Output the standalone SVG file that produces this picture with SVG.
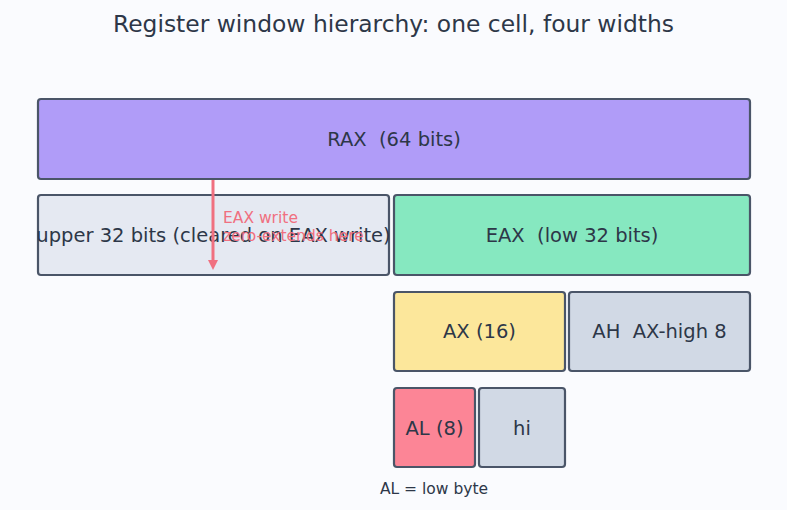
<svg xmlns="http://www.w3.org/2000/svg" width="787" height="510" viewBox="0 0 787 510">
<style>
.box{stroke:#4a5568;stroke-width:2.2}
.lbl{font-family:"DejaVu Sans",sans-serif;font-size:19.5px;fill:#2d3748;text-anchor:middle;dominant-baseline:central;white-space:pre}
.note{font-family:"DejaVu Sans",sans-serif;font-size:15.5px;fill:#f07080}
</style>
<defs>
<marker id="ah" markerWidth="10" markerHeight="10" refX="5" refY="5" orient="auto" markerUnits="userSpaceOnUse"><path d="M0,0 L10,5 L0,10 z" fill="#f07080"/></marker>
</defs>
<rect width="787" height="510" fill="#fafbfe"/>
<text x="393.5" y="32" font-family="DejaVu Sans,sans-serif" font-size="23.4" fill="#2d3748" text-anchor="middle">Register window hierarchy: one cell, four widths</text>
<g id="rax"><rect class="box" x="38" y="99" width="712" height="80" rx="3" fill="#b09cf8"/><text class="lbl" x="394" y="139" xml:space="preserve">RAX  (64 bits)</text></g>
<g id="upper"><rect class="box" x="38" y="195" width="351" height="80" rx="3" fill="#e5e9f2"/><text class="lbl" x="213.5" y="235">upper 32 bits (cleared on EAX write)</text></g>
<g id="eax"><rect class="box" x="394" y="195" width="356" height="80" rx="3" fill="#86e8c0"/><text class="lbl" x="572" y="235" xml:space="preserve">EAX  (low 32 bits)</text></g>
<g id="ax"><rect class="box" x="394" y="292" width="171" height="79" rx="3" fill="#fce79b"/><text class="lbl" x="479.5" y="331">AX (16)</text></g>
<g id="ah-node"><rect class="box" x="569" y="292" width="181" height="79" rx="3" fill="#d1d9e5"/><text class="lbl" x="659.5" y="331" xml:space="preserve">AH  AX-high 8</text></g>
<g id="al"><rect class="box" x="394" y="388" width="81" height="79" rx="3" fill="#fc8596"/><text class="lbl" x="434.5" y="428">AL (8)</text></g>
<g id="hi"><rect class="box" x="479" y="388" width="86" height="79" rx="3" fill="#d1d9e5"/><text class="lbl" x="522" y="428">hi</text></g>
<g id="connectors">
<line x1="213" y1="180" x2="213" y2="265" stroke="#f07080" stroke-width="3" marker-end="url(#ah)"/>
<text class="note" x="223" y="223">EAX write</text>
<text class="note" x="223" y="241">zero-extends here</text>
</g>
<text x="434" y="494" font-family="DejaVu Sans,sans-serif" font-size="15.5" fill="#2d3748" text-anchor="middle">AL = low byte</text>
</svg>
